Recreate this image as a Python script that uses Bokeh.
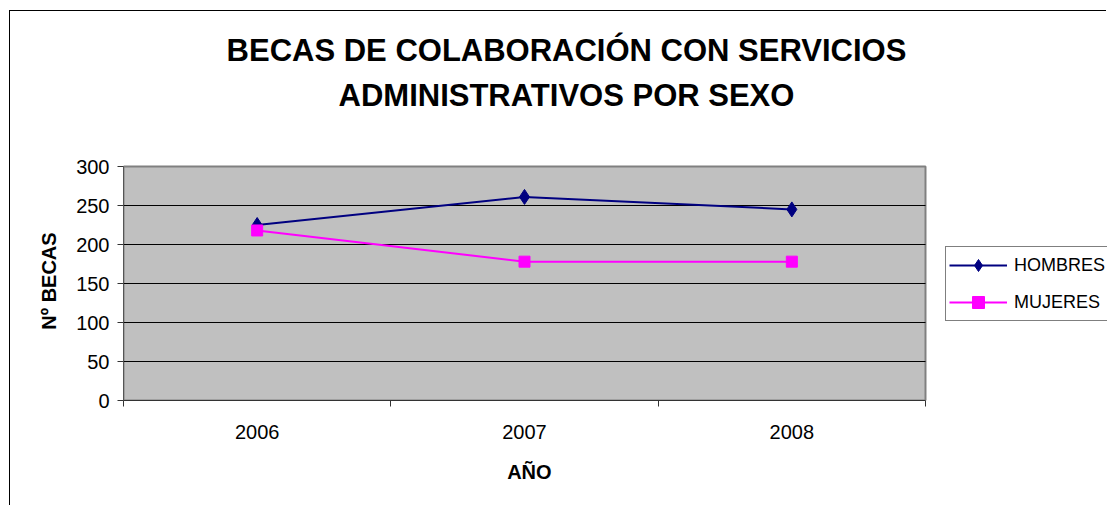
from bokeh.plotting import figure
from bokeh.models import FixedTicker, Legend, LegendItem, Label, Range1d
from bokeh.embed import file_html
from bokeh.resources import INLINE

years = [2006, 2007, 2008]
hombres = [225, 261, 245]
mujeres = [218, 178, 178]
y_ticks = [0, 50, 100, 150, 200, 250, 300]
x_bounds = [2005.5, 2006.5, 2007.5, 2008.5]
title_lines = ["BECAS DE COLABORACIÓN CON SERVICIOS", "ADMINISTRATIVOS POR SEXO"]
series_names = ["HOMBRES", "MUJERES"]
x_label = "AÑO"
y_label = "Nº BECAS"

FONT = "Liberation Sans"
NBSP = "\u00a0"

# frame spans to the top and right edges so the title and legend are not clipped;
# the grey plot area covers x_bounds[0]..x_bounds[-1] and y 0..300
W, H = 1097, 495
LEFT, BOTTOM = 113, 106
plot_px_w, plot_px_h = 802, 234
x_max = x_bounds[0] + (x_bounds[-1] - x_bounds[0]) * (W - LEFT) / plot_px_w
y_max = y_ticks[-1] * (H - BOTTOM) / plot_px_h

p = figure(width=W, height=H, output_backend="svg", toolbar_location=None,
           x_range=Range1d(x_bounds[0], x_max), y_range=Range1d(y_ticks[0], y_max),
           min_border_left=LEFT, min_border_right=0, min_border_top=0, min_border_bottom=BOTTOM)
p.title = None
p.margin = (10, 0, 0, 9)
p.styles = {"border-top": "1px solid #000", "border-left": "1px solid #000"}

p.background_fill_color = "white"
p.border_fill_color = "white"
p.outline_line_color = None
p.xgrid.visible = False
p.ygrid.visible = False

# grey plot area and gridlines
p.quad(left=x_bounds[0], right=x_bounds[-1], bottom=y_ticks[0], top=y_ticks[-1],
       fill_color="#C0C0C0", line_color="#808080", line_width=2)
p.segment(x0=[x_bounds[0]] * (len(y_ticks) - 2), x1=[x_bounds[-1]] * (len(y_ticks) - 2),
          y0=y_ticks[1:-1], y1=y_ticks[1:-1], line_color="black", line_width=1)

# x axis (label padded so it sits centred under the grey plot area)
p.xaxis.bounds = (x_bounds[0], x_bounds[-1])
p.xaxis.ticker = FixedTicker(ticks=years, minor_ticks=x_bounds)
p.xaxis.major_tick_out = 0
p.xaxis.major_tick_in = 0
p.xaxis.minor_tick_out = 6
p.xaxis.minor_tick_in = 0
p.xaxis.minor_tick_line_color = "#333333"
p.xaxis.axis_line_color = "#333333"
p.xaxis.major_label_text_font = FONT
p.xaxis.major_label_text_font_size = "20px"
p.xaxis.major_label_text_color = "black"
p.xaxis.major_label_standoff = 18
p.xaxis.axis_label = x_label + NBSP * 31
p.xaxis.axis_label_text_font = FONT
p.xaxis.axis_label_text_font_style = "bold"
p.xaxis.axis_label_text_font_size = "20px"
p.xaxis.axis_label_text_color = "black"
p.xaxis.axis_label_standoff = 19

# y axis (label padded so it sits centred beside the grey plot area)
p.yaxis.bounds = (y_ticks[0], y_ticks[-1])
p.yaxis.ticker = FixedTicker(ticks=y_ticks)
p.yaxis.minor_tick_line_color = None
p.yaxis.major_tick_out = 6
p.yaxis.major_tick_in = 0
p.yaxis.major_tick_line_color = "#333333"
p.yaxis.axis_line_color = "#555555"
p.yaxis.major_label_text_font = FONT
p.yaxis.major_label_text_font_size = "20px"
p.yaxis.major_label_text_color = "black"
p.yaxis.major_label_standoff = 8
p.yaxis.axis_label = y_label + NBSP * 27
p.yaxis.axis_label_text_font = FONT
p.yaxis.axis_label_text_font_style = "bold"
p.yaxis.axis_label_text_font_size = "20px"
p.yaxis.axis_label_text_color = "black"
p.yaxis.axis_label_standoff = 13

# series
r1 = p.line(years, hombres, line_color="#000080", line_width=2)
s1 = p.scatter(years, hombres, marker="diamond", size=15, fill_color="#000080", line_color="#000080")
r2 = p.line(years, mujeres, line_color="#FF00FF", line_width=2)
s2 = p.scatter(years, mujeres, marker="square", size=11, fill_color="#FF00FF", line_color="#FF00FF")

legend = Legend(items=[LegendItem(label=series_names[0], renderers=[r1, s1]),
                       LegendItem(label=series_names[1], renderers=[r2, s2])],
                location=(822, 79))
legend.label_text_font = FONT
legend.label_text_font_size = "18px"
legend.label_text_color = "black"
legend.border_line_color = "black"
legend.border_line_width = 1
legend.background_fill_color = "white"
legend.background_fill_alpha = 1
legend.padding = 3
legend.margin = 0
legend.spacing = 7
legend.glyph_width = 58
legend.glyph_height = 30
legend.label_height = 30
legend.label_standoff = 7
p.add_layout(legend)

# two-line title
for txt, yv in zip(title_lines, [448.7, 391]):
    p.add_layout(Label(x=2007.157, y=yv, text=txt, text_align="center", text_baseline="middle",
                       text_font=FONT, text_font_style="bold", text_font_size="31px",
                       text_color="black"))

open("out.html", "w").write(file_html(p, INLINE))
